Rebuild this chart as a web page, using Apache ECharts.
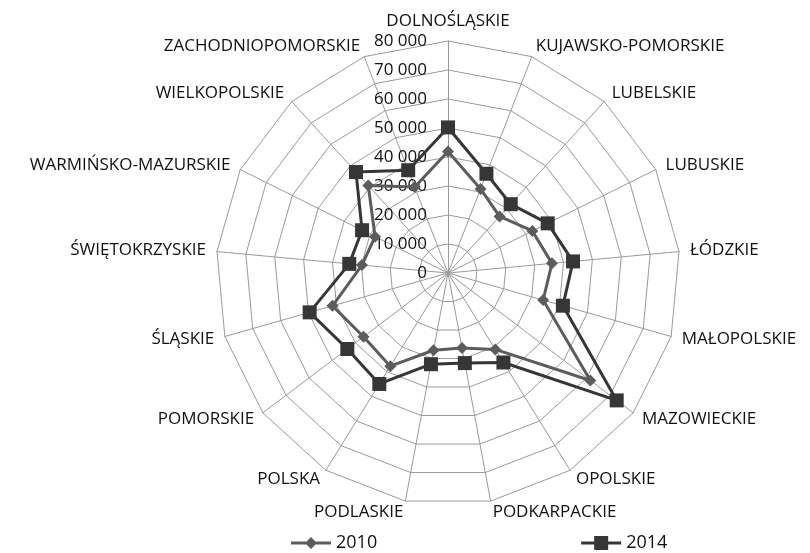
<!DOCTYPE html>
<html>

<head>
    <meta charset="UTF-8">
    <title>Radar</title>
    <script src="https://cdn.jsdelivr.net/npm/echarts@6/dist/echarts.min.js"></script>
</head>

<body style="margin:0;background:#fff;">
    <div id="RadarContainer" style="width: 810px; height: 553px;"></div>

    <script>
        var regions = ['DOLNOŚLĄSKIE', 'KUJAWSKO-POMORSKIE', 'LUBELSKIE', 'LUBUSKIE', 'ŁÓDZKIE',
            'MAŁOPOLSKIE', 'MAZOWIECKIE', 'OPOLSKIE', 'PODKARPACKIE', 'PODLASKIE', 'POLSKA',
            'POMORSKIE', 'ŚLĄSKIE', 'ŚWIĘTOKRZYSKIE', 'WARMIŃSKO-MAZURSKIE', 'WIELKOPOLSKIE',
            'ZACHODNIOPOMORSKIE'];
        var data2010 = [41900, 31100, 26400, 32500, 36000, 34100, 61500, 31000, 26300,
            27100, 37800, 36500, 41400, 29800, 28100, 40800, 31800];
        var data2014 = [50200, 36700, 32100, 38400, 43300, 41200, 72900, 36300, 31600,
            32000, 45000, 43500, 49600, 34200, 33100, 47100, 38000];
        var axisMax = 80000;
        var axisSteps = 8;

        function fmt(v) {
            return String(v).replace(/\B(?=(\d{3})+(?!\d))/g, ' ');
        }

        // echarts lays radar axes out counter-clockwise, the chart goes clockwise
        function clockwise(arr) {
            return [arr[0]].concat(arr.slice(1).reverse());
        }

        var font = '"Open Sans", sans-serif';
        var myChart = echarts.init(document.getElementById('RadarContainer'), null, { renderer: 'canvas' });

        var indicator = clockwise(regions).map(function (name, i) {
            var ind = { name: name, max: axisMax, min: 0 };
            if (i === 0) {
                // only the top axis carries the value labels
                ind.axisLabel = {
                    show: true,
                    formatter: fmt,
                    color: '#111',
                    fontSize: 17,
                    fontFamily: font,
                    margin: 21
                };
            }
            return ind;
        });

        var option = {
            backgroundColor: '#fff',
            animation: false,
            legend: {
                top: 529,
                left: 286,
                itemGap: 204,
                itemWidth: 40,
                itemHeight: 14,
                textStyle: { fontSize: 18, color: '#111', fontFamily: font },
                data: [
                    { name: '2010', icon: 'path://M0,5.5H40V8.5H0Z M20,1L26,7L20,13L14,7Z' },
                    { name: '2014', icon: 'path://M0,5.5H40V8.5H0Z M13,0H27V14H13Z' }
                ]
            },
            radar: {
                center: [448, 273],
                radius: 232,
                startAngle: 90,
                shape: 'polygon',
                splitNumber: axisSteps,
                indicator: indicator,
                axisName: {
                    color: '#111',
                    fontSize: 17,
                    fontFamily: font
                },
                nameGap: 11,
                axisLine: { lineStyle: { color: '#9a9a9a', width: 1 } },
                splitLine: { lineStyle: { color: '#9a9a9a', width: 1 } },
                splitArea: { show: false },
                axisLabel: { show: false }
            },
            series: [
                {
                    type: 'radar',
                    data: [
                        {
                            name: '2010',
                            value: clockwise(data2010),
                            symbol: 'diamond',
                            symbolSize: 12,
                            itemStyle: { color: '#5c5c5c' },
                            lineStyle: { color: '#5c5c5c', width: 3 }
                        },
                        {
                            name: '2014',
                            value: clockwise(data2014),
                            symbol: 'rect',
                            symbolSize: 14,
                            itemStyle: { color: '#363636' },
                            lineStyle: { color: '#363636', width: 3 }
                        }
                    ]
                }
            ]
        };

        myChart.setOption(option);
    </script>
</body>

</html>
